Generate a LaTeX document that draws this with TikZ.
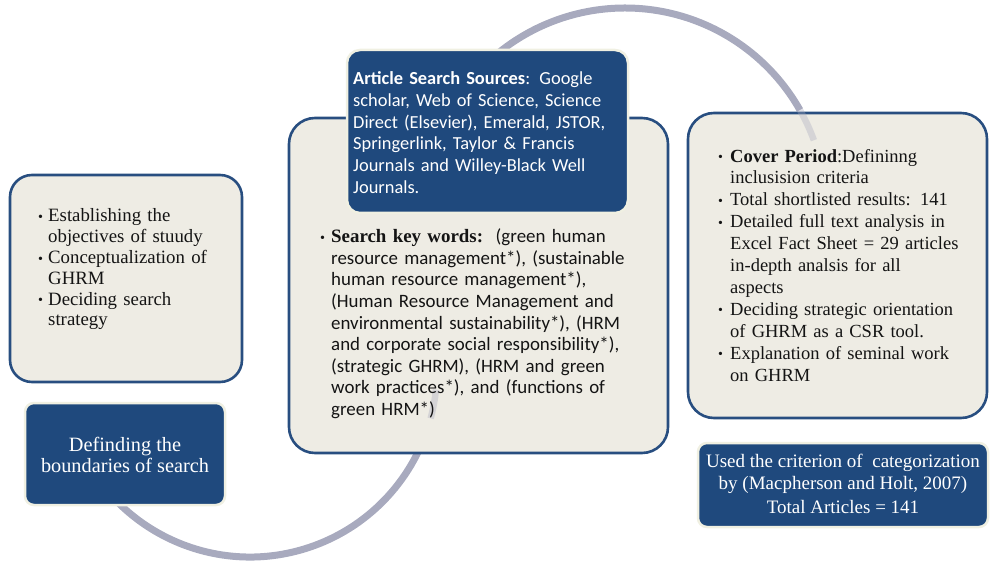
\documentclass[tikz,border=0pt]{standalone}
\usepackage{fontspec}
\setmainfont{Liberation Serif}
\newfontfamily\calfont{Carlito}
\definecolor{dblue}{RGB}{31,73,125}
\definecolor{bordblue}{RGB}{40,78,128}
\definecolor{gfill}{RGB}{238,236,228}
\definecolor{arcgray}{RGB}{168,170,190}
\definecolor{glow}{RGB}{240,240,226}
\definecolor{txt}{RGB}{20,20,20}
\newlength{\bw}
\setlength{\bw}{11pt}
\newcommand{\bl}[1]{\par\noindent\makebox[\bw][l]{\raisebox{0.5pt}{\rmfamily\mdseries\scalebox{0.75}{\textbullet}}}#1}
\newcommand{\cl}[1]{\par\noindent\hspace*{\bw}#1}
\tikzset{
  graybox/.style={draw=bordblue, line width=2.6pt, fill=gfill, rounded corners=22pt},
  bluebox/.style={draw=glow, line width=2.5pt, fill=dblue, rounded corners=9pt},
  arcline/.style={draw=arcgray, line width=7pt},
  faint/.style={draw=arcgray, line width=6.5pt, opacity=0.35},
  bodytext/.style={inner sep=0pt, anchor=north west, text=txt},
}
\begin{document}
\begin{tikzpicture}[x=1pt,y=1pt]
\useasboundingbox (0,0) rectangle (990,560);
% arcs behind
\coordinate (c1) at (250,190);
\coordinate (c2) at (625,351);
\draw[arcline] ([shift={(200:187)}]c1) arc[start angle=200, end angle=345, radius=187];
\draw[arcline] ([shift={(135:201)}]c2) arc[start angle=135, end angle=29.5, radius=201];
% left boxes
\path[graybox] (10,178) rectangle (242,385);
\path[bluebox] (25,55) rectangle (225,157);
% middle boxes
\path[graybox, rounded corners=26pt] (289,107) rectangle (668,442);
\path[bluebox, rounded corners=13pt] (347,347) rectangle (628,510);
% right boxes
\path[graybox, rounded corners=26pt] (688,142) rectangle (987,447);
\path[bluebox] (698,33) rectangle (988,117);
% faint arc continuations over boxes
\draw[faint] ([shift={(345:187)}]c1) arc[start angle=345, end angle=354, radius=187];
\draw[faint] ([shift={(29.5:201)}]c2) arc[start angle=29.5, end angle=20, radius=201];
% texts
\node[bodytext, text width=200pt, font=\fontsize{18.8}{20.8}\selectfont] (ltext) at (38,359) {\setlength{\bw}{10pt}%
\bl{Establishing the}
\cl{objectives of stuudy}
\bl{Conceptualization of}
\cl{GHRM}
\bl{Deciding search}
\cl{strategy}};
\node[inner sep=0pt, text=white, align=center, font=\fontsize{20.3}{20.5}\selectfont] (ltitle) at (125,105) {Definding the\\boundaries of search};
\node[bodytext, text=white, text width=275pt, font=\calfont\fontsize{18.4}{21.7}\selectfont] (srcs) at (353,497) {%
\par\noindent\textbf{Article Search Sources}: Google
\par\noindent scholar, Web of Science, Science
\par\noindent Direct (Elsevier), Emerald, JSTOR,
\par\noindent Springerlink, Taylor \& Francis
\par\noindent Journals and Willey-Black Well
\par\noindent Journals.};
\node[bodytext, text width=345pt, font=\calfont\fontsize{18.9}{21.6}\selectfont] (kw) at (320,339) {\setlength{\bw}{11pt}%
\bl{{\rmfamily\bfseries Search key words:}\ \ (green human}
\cl{resource management*), (sustainable}
\cl{human resource management*),}
\cl{(Human Resource Management and}
\cl{environmental sustainability*), (HRM}
\cl{and corporate social responsibility*),}
\cl{(strategic GHRM), (HRM and green}
\cl{work practices*), and (functions of}
\cl{green HRM*)}};
\node[bodytext, text width=265pt, font=\fontsize{18.5}{21.9}\selectfont] (rtext) at (718,420) {\setlength{\bw}{12pt}%
\bl{\textbf{Cover Period}:Defininng}
\cl{inclusision criteria}
\bl{Total shortlisted results: 141}
\bl{Detailed full text analysis in}
\cl{Excel Fact Sheet = 29 articles}
\cl{in-depth analsis for all}
\cl{aspects}
\bl{Deciding strategic orientation}
\cl{of GHRM as a CSR tool.}
\bl{Explanation of seminal work}
\cl{on GHRM}};
\node[inner sep=0pt, text=white, align=center, font=\fontsize{19}{22}\selectfont] (rtitle) at (843,76) {Used the criterion of\ \ categorization\\by (Macpherson and Holt, 2007)\\[2pt]Total Articles = 141};
\end{tikzpicture}
\end{document}
